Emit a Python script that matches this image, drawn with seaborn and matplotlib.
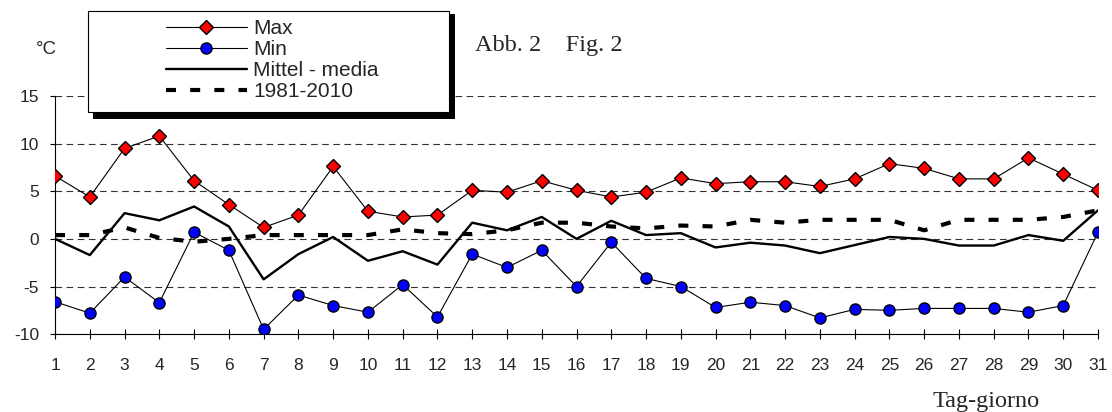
import pandas as pd
import seaborn as sns
import matplotlib.pyplot as plt
from matplotlib.patches import Rectangle

# Tageswerte (Tag 1..31)
days = list(range(1, 32))
t_max = [6.6, 4.4, 9.5, 10.8, 6.1, 3.6, 1.2, 2.5, 7.6, 2.9,
         2.3, 2.5, 5.1, 4.9, 6.1, 5.1, 4.4, 4.9, 6.4, 5.8,
         6.0, 6.0, 5.5, 6.3, 7.9, 7.4, 6.3, 6.3, 8.5, 6.8, 5.1]
t_min = [-6.6, -7.8, -4.0, -6.7, 0.7, -1.2, -9.5, -5.9, -7.0, -7.7,
         -4.8, -8.2, -1.6, -3.0, -1.2, -5.0, -0.35, -4.15, -5.0, -7.2,
         -6.65, -7.0, -8.3, -7.4, -7.5, -7.3, -7.3, -7.3, -7.7, -7.0, 0.7]
t_mean = [0.0, -1.7, 2.7, 1.95, 3.4, 1.3, -4.25, -1.6, 0.2, -2.3,
          -1.3, -2.7, 1.7, 0.9, 2.3, 0.0, 1.9, 0.4, 0.6, -0.9,
          -0.4, -0.7, -1.5, -0.65, 0.2, 0.0, -0.7, -0.7, 0.4, -0.2, 3.0]
t_norm = [0.4, 0.4, 1.2, 0.1, -0.3, 0.0, 0.4, 0.4, 0.4, 0.4,
          1.0, 0.6, 0.5, 0.9, 1.7, 1.7, 1.3, 1.1, 1.4, 1.3,
          2.0, 1.7, 2.0, 2.0, 2.0, 0.9, 2.0, 2.0, 2.0, 2.3, 3.0]
labels = ['Max', 'Min', 'Mittel - media', '1981-2010']

sns.set_theme(style='white')
plt.rcParams['font.family'] = ['Liberation Sans', 'DejaVu Sans']
plt.rcParams['axes.unicode_minus'] = False

fig = plt.figure(figsize=(11.12, 4.12), dpi=100)
ax = fig.add_axes([0.0495, 0.189, 0.9379, 0.578])

# Kurven
sns.lineplot(x=days, y=t_max, ax=ax, color='black', lw=0.8, marker='D', markersize=7.5,
             markerfacecolor='red', markeredgecolor='black', markeredgewidth=1,
             label=labels[0], legend=False, zorder=5)
sns.lineplot(x=days, y=t_min, ax=ax, color='black', lw=0.8, marker='o', markersize=8,
             markerfacecolor='#0000ff', markeredgecolor='black', markeredgewidth=1,
             label=labels[1], legend=False, zorder=5)
sns.lineplot(x=days, y=t_mean, ax=ax, color='black', lw=1.7,
             label=labels[2], legend=False, zorder=4)
sns.lineplot(x=days, y=t_norm, ax=ax, color='black', lw=3, linestyle=(0, (2.4, 3.4)),
             label=labels[3], legend=False, zorder=3)

# Achsen
ax.set_xlim(1, 31)
ax.set_ylim(-10, 15)
ax.set_xticks(days)
ax.set_yticks([-10, -5, 0, 5, 10, 15])
ax.set_xlabel('')
ax.set_ylabel('')
for s in ['top', 'right']:
    ax.spines[s].set_visible(False)
for s in ['left', 'bottom']:
    ax.spines[s].set_color('black')
    ax.spines[s].set_linewidth(0.8)
ax.yaxis.grid(True, color='#333333', linestyle=(0, (6, 4)), lw=0.8)
ax.tick_params(axis='x', direction='inout', length=7, width=0.8, color='black',
               bottom=True, labelsize=12.5, pad=14)
ax.tick_params(axis='y', direction='out', length=3.6, width=0.8, color='black',
               left=True, labelsize=12.5, pad=8)

# Texte
fig.text(0.0414, 0.881, '°C', fontsize=13.5, ha='center', va='center')
fig.text(0.427, 0.876, 'Abb. 2    Fig. 2', fontsize=17.5, ha='left', va='baseline',
         family=['Liberation Serif', 'DejaVu Serif'])
fig.text(0.839, 0.012, 'Tag-giorno', fontsize=17.5, ha='left', va='baseline',
         family=['Liberation Serif', 'DejaVu Serif'])

# Legendenkasten mit Schatten
fig.patches.append(Rectangle((0.0836, 0.7112), 0.3256, 0.2548, transform=fig.transFigure,
                             facecolor='black', edgecolor='none', zorder=1))
fig.patches.append(Rectangle((0.0791, 0.7282), 0.3247, 0.2451, transform=fig.transFigure,
                             facecolor='white', edgecolor='black', lw=0.8, zorder=2))
handles, labs = ax.get_legend_handles_labels()
fig.legend(handles, labs, loc='upper left', bbox_to_anchor=(0.149, 0.954),
           frameon=False, fontsize=15, handlelength=3.9, handletextpad=0.3,
           labelspacing=0.1, borderpad=0, borderaxespad=0)

plt.savefig('out.png', dpi=100)
